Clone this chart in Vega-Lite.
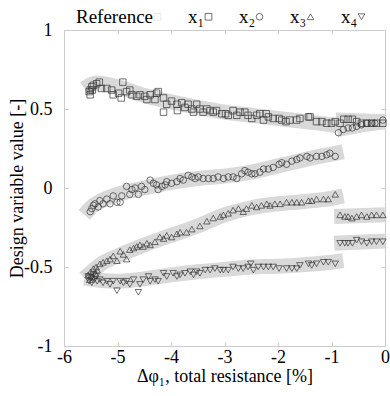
{
  "$schema": "https://vega.github.io/schema/vega-lite/v6.json",
  "autosize": "none",
  "width": 321,
  "height": 316,
  "padding": {"left": 64, "top": 30, "right": 5, "bottom": 50},
  "config": {
    "font": "Liberation Serif",
    "view": {"stroke": "#cccccc"},
    "axis": {"labelFont": "Liberation Serif", "titleFont": "Liberation Serif", "labelColor": "#000", "titleColor": "#000", "labelFontSize": 18, "titleFontSize": 18, "titleFontWeight": "normal", "grid": false, "domainColor": "#cccccc", "tickColor": "#cccccc"},
    "legend": {"labelFont": "Liberation Serif"}
  },
  "datasets": {
    "ref": [
      {"s": "x1a", "x": -5.62, "y": 0.63}, {"s": "x1a", "x": -5.4, "y": 0.665}, {"s": "x1a", "x": -5.0, "y": 0.64}, {"s": "x1a", "x": -4.5, "y": 0.585}, {"s": "x1a", "x": -4.0, "y": 0.545}, {"s": "x1a", "x": -3.5, "y": 0.51}, {"s": "x1a", "x": -3.0, "y": 0.48}, {"s": "x1a", "x": -2.5, "y": 0.46}, {"s": "x1a", "x": -2.0, "y": 0.44}, {"s": "x1a", "x": -1.5, "y": 0.42}, {"s": "x1a", "x": -1.0, "y": 0.4}, {"s": "x1a", "x": -0.9, "y": 0.395},
      {"s": "x1b", "x": -0.92, "y": 0.43}, {"s": "x1b", "x": -0.5, "y": 0.425}, {"s": "x1b", "x": 0.0, "y": 0.42},
      {"s": "x2a", "x": -5.62, "y": -0.17}, {"s": "x2a", "x": -5.45, "y": -0.11}, {"s": "x2a", "x": -5.3, "y": -0.08}, {"s": "x2a", "x": -5.0, "y": -0.04}, {"s": "x2a", "x": -4.5, "y": 0.0}, {"s": "x2a", "x": -4.0, "y": 0.035}, {"s": "x2a", "x": -3.5, "y": 0.06}, {"s": "x2a", "x": -3.0, "y": 0.075}, {"s": "x2a", "x": -2.5, "y": 0.1}, {"s": "x2a", "x": -2.0, "y": 0.14}, {"s": "x2a", "x": -1.5, "y": 0.18}, {"s": "x2a", "x": -1.0, "y": 0.215}, {"s": "x2a", "x": -0.78, "y": 0.23},
      {"s": "x2b", "x": -0.9, "y": 0.37}, {"s": "x2b", "x": -0.5, "y": 0.395}, {"s": "x2b", "x": 0.0, "y": 0.42},
      {"s": "x3a", "x": -5.62, "y": -0.57}, {"s": "x3a", "x": -5.45, "y": -0.52}, {"s": "x3a", "x": -5.3, "y": -0.48}, {"s": "x3a", "x": -5.0, "y": -0.43}, {"s": "x3a", "x": -4.5, "y": -0.36}, {"s": "x3a", "x": -4.0, "y": -0.3}, {"s": "x3a", "x": -3.5, "y": -0.24}, {"s": "x3a", "x": -3.0, "y": -0.17}, {"s": "x3a", "x": -2.5, "y": -0.125}, {"s": "x3a", "x": -2.0, "y": -0.1}, {"s": "x3a", "x": -1.5, "y": -0.085}, {"s": "x3a", "x": -1.0, "y": -0.065}, {"s": "x3a", "x": -0.78, "y": -0.05},
      {"s": "x3b", "x": -0.95, "y": -0.18}, {"s": "x3b", "x": 0.0, "y": -0.17},
      {"s": "x4a", "x": -5.62, "y": -0.57}, {"s": "x4a", "x": -5.3, "y": -0.585}, {"s": "x4a", "x": -5.0, "y": -0.59}, {"s": "x4a", "x": -4.5, "y": -0.575}, {"s": "x4a", "x": -4.0, "y": -0.55}, {"s": "x4a", "x": -3.5, "y": -0.53}, {"s": "x4a", "x": -3.0, "y": -0.515}, {"s": "x4a", "x": -2.5, "y": -0.5}, {"s": "x4a", "x": -2.0, "y": -0.495}, {"s": "x4a", "x": -1.5, "y": -0.485}, {"s": "x4a", "x": -1.0, "y": -0.47}, {"s": "x4a", "x": -0.78, "y": -0.46},
      {"s": "x4b", "x": -0.95, "y": -0.35}, {"s": "x4b", "x": 0.0, "y": -0.335}
    ],
    "pts": [
      {"v": "x₁", "x": -5.51, "y": 0.62}, {"v": "x₁", "x": -5.48, "y": 0.64}, {"v": "x₁", "x": -5.45, "y": 0.65}, {"v": "x₁", "x": -5.39, "y": 0.66}, {"v": "x₁", "x": -5.34, "y": 0.67}, {"v": "x₁", "x": -5.51, "y": 0.59}, {"v": "x₁", "x": -5.53, "y": 0.61}, {"v": "x₁", "x": -5.47, "y": 0.62}, {"v": "x₁", "x": -4.9, "y": 0.67}, {"v": "x₁", "x": -5.3, "y": 0.63}, {"v": "x₁", "x": -5.2, "y": 0.63}, {"v": "x₁", "x": -5.11, "y": 0.62}, {"v": "x₁", "x": -5.08, "y": 0.59}, {"v": "x₁", "x": -4.98, "y": 0.6}, {"v": "x₁", "x": -4.93, "y": 0.57}, {"v": "x₁", "x": -4.83, "y": 0.61}, {"v": "x₁", "x": -4.77, "y": 0.62}, {"v": "x₁", "x": -4.73, "y": 0.59}, {"v": "x₁", "x": -4.64, "y": 0.58}, {"v": "x₁", "x": -4.58, "y": 0.59}, {"v": "x₁", "x": -4.49, "y": 0.58}, {"v": "x₁", "x": -4.45, "y": 0.56}, {"v": "x₁", "x": -4.39, "y": 0.59}, {"v": "x₁", "x": -4.3, "y": 0.56}, {"v": "x₁", "x": -4.27, "y": 0.6}, {"v": "x₁", "x": -4.24, "y": 0.61}, {"v": "x₁", "x": -4.14, "y": 0.57}, {"v": "x₁", "x": -4.14, "y": 0.48}, {"v": "x₁", "x": -4.08, "y": 0.53}, {"v": "x₁", "x": -3.99, "y": 0.55}, {"v": "x₁", "x": -3.89, "y": 0.53}, {"v": "x₁", "x": -3.88, "y": 0.49}, {"v": "x₁", "x": -3.8, "y": 0.54}, {"v": "x₁", "x": -3.74, "y": 0.51}, {"v": "x₁", "x": -3.68, "y": 0.53}, {"v": "x₁", "x": -3.61, "y": 0.5}, {"v": "x₁", "x": -3.58, "y": 0.48}, {"v": "x₁", "x": -3.52, "y": 0.53}, {"v": "x₁", "x": -3.46, "y": 0.5}, {"v": "x₁", "x": -3.4, "y": 0.48}, {"v": "x₁", "x": -3.33, "y": 0.5}, {"v": "x₁", "x": -3.27, "y": 0.49}, {"v": "x₁", "x": -3.21, "y": 0.48}, {"v": "x₁", "x": -3.15, "y": 0.49}, {"v": "x₁", "x": -3.05, "y": 0.47}, {"v": "x₁", "x": -2.98, "y": 0.47}, {"v": "x₁", "x": -2.93, "y": 0.46}, {"v": "x₁", "x": -2.84, "y": 0.49}, {"v": "x₁", "x": -2.77, "y": 0.46}, {"v": "x₁", "x": -2.71, "y": 0.48}, {"v": "x₁", "x": -2.62, "y": 0.48}, {"v": "x₁", "x": -2.56, "y": 0.46}, {"v": "x₁", "x": -2.49, "y": 0.44}, {"v": "x₁", "x": -2.4, "y": 0.46}, {"v": "x₁", "x": -2.34, "y": 0.47}, {"v": "x₁", "x": -2.27, "y": 0.43}, {"v": "x₁", "x": -2.22, "y": 0.47}, {"v": "x₁", "x": -2.18, "y": 0.45}, {"v": "x₁", "x": -2.09, "y": 0.44}, {"v": "x₁", "x": -1.98, "y": 0.44}, {"v": "x₁", "x": -1.93, "y": 0.43}, {"v": "x₁", "x": -1.85, "y": 0.42}, {"v": "x₁", "x": -1.78, "y": 0.43}, {"v": "x₁", "x": -1.65, "y": 0.43}, {"v": "x₁", "x": -1.59, "y": 0.44}, {"v": "x₁", "x": -1.43, "y": 0.45}, {"v": "x₁", "x": -1.4, "y": 0.45}, {"v": "x₁", "x": -1.28, "y": 0.42}, {"v": "x₁", "x": -1.18, "y": 0.42}, {"v": "x₁", "x": -1.09, "y": 0.41}, {"v": "x₁", "x": -1.0, "y": 0.41}, {"v": "x₁", "x": -0.93, "y": 0.42}, {"v": "x₁", "x": -0.84, "y": 0.41}, {"v": "x₁", "x": -0.77, "y": 0.435}, {"v": "x₁", "x": -0.69, "y": 0.435}, {"v": "x₁", "x": -0.61, "y": 0.435}, {"v": "x₁", "x": -0.53, "y": 0.42}, {"v": "x₁", "x": -0.44, "y": 0.41}, {"v": "x₁", "x": -0.34, "y": 0.41}, {"v": "x₁", "x": -0.25, "y": 0.41}, {"v": "x₁", "x": -0.16, "y": 0.41}, {"v": "x₁", "x": -0.04, "y": 0.41},
      {"v": "x₂", "x": -5.51, "y": -0.15}, {"v": "x₂", "x": -5.48, "y": -0.13}, {"v": "x₂", "x": -5.45, "y": -0.11}, {"v": "x₂", "x": -5.42, "y": -0.1}, {"v": "x₂", "x": -5.36, "y": -0.12}, {"v": "x₂", "x": -5.33, "y": -0.08}, {"v": "x₂", "x": -5.27, "y": -0.1}, {"v": "x₂", "x": -5.2, "y": -0.07}, {"v": "x₂", "x": -5.14, "y": -0.1}, {"v": "x₂", "x": -5.08, "y": -0.05}, {"v": "x₂", "x": -5.01, "y": -0.09}, {"v": "x₂", "x": -4.95, "y": -0.09}, {"v": "x₂", "x": -4.92, "y": -0.05}, {"v": "x₂", "x": -4.83, "y": 0.01}, {"v": "x₂", "x": -4.77, "y": -0.04}, {"v": "x₂", "x": -4.73, "y": -0.01}, {"v": "x₂", "x": -4.67, "y": 0.0}, {"v": "x₂", "x": -4.61, "y": -0.04}, {"v": "x₂", "x": -4.55, "y": 0.01}, {"v": "x₂", "x": -4.49, "y": -0.01}, {"v": "x₂", "x": -4.39, "y": 0.05}, {"v": "x₂", "x": -4.33, "y": 0.03}, {"v": "x₂", "x": -4.27, "y": 0.02}, {"v": "x₂", "x": -4.24, "y": -0.01}, {"v": "x₂", "x": -4.17, "y": 0.01}, {"v": "x₂", "x": -4.11, "y": 0.02}, {"v": "x₂", "x": -4.08, "y": 0.04}, {"v": "x₂", "x": -3.99, "y": 0.03}, {"v": "x₂", "x": -3.89, "y": 0.04}, {"v": "x₂", "x": -3.83, "y": 0.06}, {"v": "x₂", "x": -3.77, "y": 0.05}, {"v": "x₂", "x": -3.68, "y": 0.08}, {"v": "x₂", "x": -3.61, "y": 0.07}, {"v": "x₂", "x": -3.55, "y": 0.06}, {"v": "x₂", "x": -3.49, "y": 0.07}, {"v": "x₂", "x": -3.4, "y": 0.06}, {"v": "x₂", "x": -3.3, "y": 0.06}, {"v": "x₂", "x": -3.21, "y": 0.06}, {"v": "x₂", "x": -3.12, "y": 0.07}, {"v": "x₂", "x": -3.02, "y": 0.06}, {"v": "x₂", "x": -2.93, "y": 0.07}, {"v": "x₂", "x": -2.84, "y": 0.07}, {"v": "x₂", "x": -2.77, "y": 0.06}, {"v": "x₂", "x": -2.68, "y": 0.09}, {"v": "x₂", "x": -2.62, "y": 0.11}, {"v": "x₂", "x": -2.56, "y": 0.1}, {"v": "x₂", "x": -2.49, "y": 0.09}, {"v": "x₂", "x": -2.43, "y": 0.09}, {"v": "x₂", "x": -2.34, "y": 0.1}, {"v": "x₂", "x": -2.27, "y": 0.12}, {"v": "x₂", "x": -2.18, "y": 0.12}, {"v": "x₂", "x": -2.09, "y": 0.13}, {"v": "x₂", "x": -1.98, "y": 0.15}, {"v": "x₂", "x": -1.93, "y": 0.16}, {"v": "x₂", "x": -1.84, "y": 0.15}, {"v": "x₂", "x": -1.74, "y": 0.17}, {"v": "x₂", "x": -1.65, "y": 0.18}, {"v": "x₂", "x": -1.59, "y": 0.19}, {"v": "x₂", "x": -1.46, "y": 0.2}, {"v": "x₂", "x": -1.4, "y": 0.19}, {"v": "x₂", "x": -1.28, "y": 0.2}, {"v": "x₂", "x": -1.18, "y": 0.2}, {"v": "x₂", "x": -1.09, "y": 0.21}, {"v": "x₂", "x": -1.03, "y": 0.22}, {"v": "x₂", "x": -0.93, "y": 0.2},
      {"v": "x₂", "x": -0.87, "y": 0.35}, {"v": "x₂", "x": -0.78, "y": 0.37}, {"v": "x₂", "x": -0.69, "y": 0.38}, {"v": "x₂", "x": -0.61, "y": 0.38}, {"v": "x₂", "x": -0.53, "y": 0.39}, {"v": "x₂", "x": -0.44, "y": 0.4}, {"v": "x₂", "x": -0.34, "y": 0.41}, {"v": "x₂", "x": -0.25, "y": 0.41}, {"v": "x₂", "x": -0.19, "y": 0.41}, {"v": "x₂", "x": -0.04, "y": 0.43},
      {"v": "x₃", "x": -5.55, "y": -0.55}, {"v": "x₃", "x": -5.52, "y": -0.58}, {"v": "x₃", "x": -5.5, "y": -0.53}, {"v": "x₃", "x": -5.48, "y": -0.56}, {"v": "x₃", "x": -5.45, "y": -0.51}, {"v": "x₃", "x": -5.42, "y": -0.54}, {"v": "x₃", "x": -5.4, "y": -0.5}, {"v": "x₃", "x": -5.38, "y": -0.52}, {"v": "x₃", "x": -5.33, "y": -0.48}, {"v": "x₃", "x": -5.27, "y": -0.47}, {"v": "x₃", "x": -5.2, "y": -0.46}, {"v": "x₃", "x": -5.14, "y": -0.45}, {"v": "x₃", "x": -5.08, "y": -0.43}, {"v": "x₃", "x": -5.01, "y": -0.46}, {"v": "x₃", "x": -4.95, "y": -0.4}, {"v": "x₃", "x": -4.89, "y": -0.42}, {"v": "x₃", "x": -4.83, "y": -0.45}, {"v": "x₃", "x": -4.77, "y": -0.39}, {"v": "x₃", "x": -4.7, "y": -0.38}, {"v": "x₃", "x": -4.64, "y": -0.37}, {"v": "x₃", "x": -4.58, "y": -0.36}, {"v": "x₃", "x": -4.52, "y": -0.37}, {"v": "x₃", "x": -4.45, "y": -0.35}, {"v": "x₃", "x": -4.39, "y": -0.36}, {"v": "x₃", "x": -4.3, "y": -0.34}, {"v": "x₃", "x": -4.21, "y": -0.31}, {"v": "x₃", "x": -4.14, "y": -0.32}, {"v": "x₃", "x": -4.08, "y": -0.3}, {"v": "x₃", "x": -3.99, "y": -0.31}, {"v": "x₃", "x": -3.89, "y": -0.29}, {"v": "x₃", "x": -3.83, "y": -0.28}, {"v": "x₃", "x": -3.71, "y": -0.28}, {"v": "x₃", "x": -3.61, "y": -0.26}, {"v": "x₃", "x": -3.46, "y": -0.24}, {"v": "x₃", "x": -3.33, "y": -0.21}, {"v": "x₃", "x": -3.21, "y": -0.19}, {"v": "x₃", "x": -3.08, "y": -0.18}, {"v": "x₃", "x": -3.02, "y": -0.17}, {"v": "x₃", "x": -2.93, "y": -0.16}, {"v": "x₃", "x": -2.84, "y": -0.14}, {"v": "x₃", "x": -2.74, "y": -0.13}, {"v": "x₃", "x": -2.65, "y": -0.15}, {"v": "x₃", "x": -2.59, "y": -0.13}, {"v": "x₃", "x": -2.49, "y": -0.11}, {"v": "x₃", "x": -2.4, "y": -0.12}, {"v": "x₃", "x": -2.31, "y": -0.11}, {"v": "x₃", "x": -2.21, "y": -0.1}, {"v": "x₃", "x": -2.15, "y": -0.11}, {"v": "x₃", "x": -2.06, "y": -0.1}, {"v": "x₃", "x": -1.96, "y": -0.1}, {"v": "x₃", "x": -1.84, "y": -0.09}, {"v": "x₃", "x": -1.74, "y": -0.09}, {"v": "x₃", "x": -1.65, "y": -0.09}, {"v": "x₃", "x": -1.56, "y": -0.09}, {"v": "x₃", "x": -1.43, "y": -0.08}, {"v": "x₃", "x": -1.37, "y": -0.08}, {"v": "x₃", "x": -1.28, "y": -0.07}, {"v": "x₃", "x": -1.15, "y": -0.07}, {"v": "x₃", "x": -1.06, "y": -0.07}, {"v": "x₃", "x": -0.93, "y": -0.04},
      {"v": "x₃", "x": -0.84, "y": -0.17}, {"v": "x₃", "x": -0.75, "y": -0.18}, {"v": "x₃", "x": -0.69, "y": -0.18}, {"v": "x₃", "x": -0.62, "y": -0.19}, {"v": "x₃", "x": -0.53, "y": -0.18}, {"v": "x₃", "x": -0.44, "y": -0.17}, {"v": "x₃", "x": -0.34, "y": -0.18}, {"v": "x₃", "x": -0.25, "y": -0.17}, {"v": "x₃", "x": -0.16, "y": -0.17}, {"v": "x₃", "x": -0.04, "y": -0.17},
      {"v": "x₄", "x": -5.55, "y": -0.56}, {"v": "x₄", "x": -5.53, "y": -0.59}, {"v": "x₄", "x": -5.5, "y": -0.57}, {"v": "x₄", "x": -5.48, "y": -0.6}, {"v": "x₄", "x": -5.45, "y": -0.55}, {"v": "x₄", "x": -5.43, "y": -0.58}, {"v": "x₄", "x": -5.4, "y": -0.56}, {"v": "x₄", "x": -5.38, "y": -0.59}, {"v": "x₄", "x": -5.33, "y": -0.58}, {"v": "x₄", "x": -5.27, "y": -0.6}, {"v": "x₄", "x": -5.2, "y": -0.59}, {"v": "x₄", "x": -5.14, "y": -0.61}, {"v": "x₄", "x": -5.08, "y": -0.59}, {"v": "x₄", "x": -5.01, "y": -0.65}, {"v": "x₄", "x": -4.95, "y": -0.59}, {"v": "x₄", "x": -4.89, "y": -0.6}, {"v": "x₄", "x": -4.83, "y": -0.59}, {"v": "x₄", "x": -4.77, "y": -0.61}, {"v": "x₄", "x": -4.7, "y": -0.58}, {"v": "x₄", "x": -4.61, "y": -0.66}, {"v": "x₄", "x": -4.58, "y": -0.61}, {"v": "x₄", "x": -4.52, "y": -0.58}, {"v": "x₄", "x": -4.42, "y": -0.56}, {"v": "x₄", "x": -4.39, "y": -0.59}, {"v": "x₄", "x": -4.3, "y": -0.58}, {"v": "x₄", "x": -4.24, "y": -0.59}, {"v": "x₄", "x": -4.14, "y": -0.54}, {"v": "x₄", "x": -4.08, "y": -0.56}, {"v": "x₄", "x": -3.96, "y": -0.54}, {"v": "x₄", "x": -3.89, "y": -0.56}, {"v": "x₄", "x": -3.83, "y": -0.55}, {"v": "x₄", "x": -3.74, "y": -0.54}, {"v": "x₄", "x": -3.64, "y": -0.53}, {"v": "x₄", "x": -3.58, "y": -0.55}, {"v": "x₄", "x": -3.52, "y": -0.53}, {"v": "x₄", "x": -3.46, "y": -0.54}, {"v": "x₄", "x": -3.36, "y": -0.52}, {"v": "x₄", "x": -3.27, "y": -0.52}, {"v": "x₄", "x": -3.18, "y": -0.51}, {"v": "x₄", "x": -3.08, "y": -0.52}, {"v": "x₄", "x": -3.02, "y": -0.52}, {"v": "x₄", "x": -2.93, "y": -0.52}, {"v": "x₄", "x": -2.84, "y": -0.5}, {"v": "x₄", "x": -2.74, "y": -0.51}, {"v": "x₄", "x": -2.65, "y": -0.51}, {"v": "x₄", "x": -2.56, "y": -0.5}, {"v": "x₄", "x": -2.51, "y": -0.48}, {"v": "x₄", "x": -2.46, "y": -0.52}, {"v": "x₄", "x": -2.37, "y": -0.5}, {"v": "x₄", "x": -2.27, "y": -0.5}, {"v": "x₄", "x": -2.18, "y": -0.5}, {"v": "x₄", "x": -2.09, "y": -0.5}, {"v": "x₄", "x": -1.98, "y": -0.51}, {"v": "x₄", "x": -1.84, "y": -0.51}, {"v": "x₄", "x": -1.74, "y": -0.51}, {"v": "x₄", "x": -1.65, "y": -0.51}, {"v": "x₄", "x": -1.59, "y": -0.49}, {"v": "x₄", "x": -1.43, "y": -0.48}, {"v": "x₄", "x": -1.37, "y": -0.49}, {"v": "x₄", "x": -1.28, "y": -0.48}, {"v": "x₄", "x": -1.15, "y": -0.47}, {"v": "x₄", "x": -1.06, "y": -0.47}, {"v": "x₄", "x": -0.93, "y": -0.48},
      {"v": "x₄", "x": -0.84, "y": -0.35}, {"v": "x₄", "x": -0.75, "y": -0.35}, {"v": "x₄", "x": -0.69, "y": -0.35}, {"v": "x₄", "x": -0.61, "y": -0.35}, {"v": "x₄", "x": -0.53, "y": -0.33}, {"v": "x₄", "x": -0.44, "y": -0.34}, {"v": "x₄", "x": -0.34, "y": -0.35}, {"v": "x₄", "x": -0.25, "y": -0.34}, {"v": "x₄", "x": -0.16, "y": -0.34}, {"v": "x₄", "x": -0.04, "y": -0.34}
    ]
  },
  "layer": [
    {
      "data": {"name": "ref"},
      "mark": {"type": "line", "stroke": "#d9d9d9", "strokeWidth": 15, "strokeCap": "butt", "strokeJoin": "round", "interpolate": "monotone"},
      "encoding": {
        "x": {"field": "x", "type": "quantitative", "scale": {"domain": [-6, 0], "nice": false, "zero": false},
          "axis": {"orient": "bottom", "values": [-6, -5, -4, -3, -2, -1, 0], "labelExpr": "'' + datum.value", "labelFont": "Liberation Serif", "title": "Δφ₁, total resistance [%]", "tickSize": -4, "labelPadding": 6, "titlePadding": 1, "labelFlush": false}},
        "y": {"field": "y", "type": "quantitative", "scale": {"domain": [-1, 1], "nice": false, "zero": false},
          "axis": {"orient": "left", "values": [-1, -0.5, 0, 0.5, 1], "labelExpr": "'' + datum.value", "labelFont": "Liberation Serif", "title": "Design variable value [-]", "tickSize": -4, "labelPadding": 16, "titlePadding": -3, "labelFlush": false}},
        "detail": {"field": "s"}
      }
    },
    {
      "data": {"name": "pts"},
      "mark": {"type": "point", "filled": false, "strokeWidth": 0.7, "size": 42, "opacity": 1},
      "encoding": {
        "x": {"field": "x", "type": "quantitative", "axis": {"orient": "top", "values": [-5, -4, -3, -2, -1], "labels": false, "title": null, "tickSize": -4, "domain": false}},
        "y": {"field": "y", "type": "quantitative", "axis": {"orient": "right", "values": [-0.5, 0, 0.5], "labels": false, "title": null, "tickSize": -4, "domain": false}},
        "shape": {"field": "v", "type": "nominal",
          "scale": {"domain": ["Reference", "x₁", "x₂", "x₃", "x₄"], "range": ["square", "square", "circle", "triangle-up", "triangle-down"]},
          "legend": {"title": null, "orient": "none", "direction": "horizontal", "legendX": 84, "legendY": -23, "labelFont": "Liberation Serif", "labelFontSize": 19, "labelColor": "#000", "labelAlign": "right", "labelOffset": -14, "columnPadding": 24, "symbolSize": 45, "symbolStrokeWidth": 0.7}},
        "color": {"field": "v", "type": "nominal",
          "scale": {"domain": ["Reference", "x₁", "x₂", "x₃", "x₄"], "range": ["#dddddd", "#333333", "#333333", "#333333", "#333333"]}}
      }
    }
  ],
  "resolve": {"axis": {"x": "independent", "y": "independent"}}
}
